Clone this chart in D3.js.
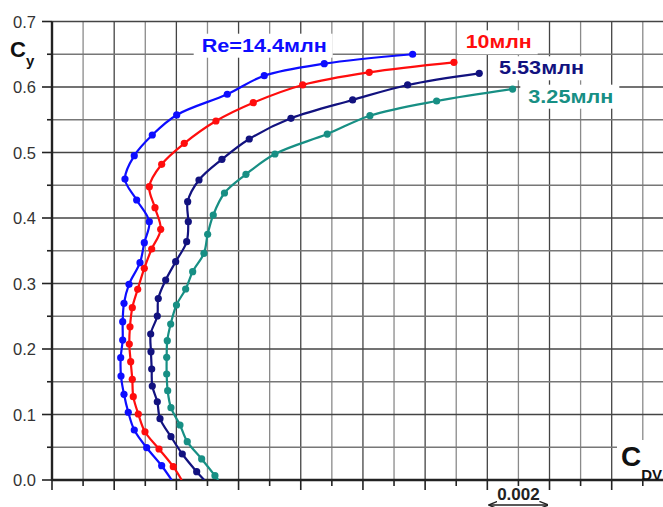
<!DOCTYPE html>
<html><head><meta charset="utf-8">
<script src="https://cdn.jsdelivr.net/npm/d3@7"></script>
<style>html,body{margin:0;padding:0;background:#fff}svg{display:block}</style>
</head><body>
<svg id="chart" width="663" height="507"></svg>
<script>
// ---- data (Cdv, Cy) ----
const seriesNames = ["Re=14.4млн", "10млн", "5.53млн", "3.25млн"];
const seriesColors = ["#0d0dff", "#ff0d0d", "#12127f", "#178f84"];
const cdv144 = [0.011598,0.008756,0.006826,0.005637,0.004010,0.003225,0.002646,0.002347,0.002723,0.003129,0.002968,0.002830,0.002476,0.002315,0.002273,0.002273,0.002209,0.002219,0.002315,0.002453,0.002646,0.003045,0.003527,0.003849];
const cy144  = [0.650,0.6356,0.6173,0.5889,0.5573,0.5267,0.4951,0.4595,0.4275,0.3944,0.3623,0.3318,0.2988,0.2698,0.2417,0.2137,0.1867,0.1588,0.1308,0.1034,0.0763,0.0493,0.0218,0];
const cdv10 = [0.012926,0.010203,0.008061,0.006473,0.005273,0.004254,0.003527,0.003129,0.003312,0.003495,0.003206,0.002968,0.002756,0.002582,0.002508,0.002486,0.002531,0.002582,0.002614,0.002775,0.002990,0.003441,0.003900,0.004170];
const cy10  = [0.6377,0.6224,0.6031,0.5760,0.5481,0.5140,0.4820,0.4478,0.4157,0.3827,0.3527,0.3232,0.2911,0.2631,0.2340,0.2076,0.1806,0.1537,0.1272,0.1008,0.0737,0.0473,0.0203,0];
const cdv553 = [0.013740,0.011437,0.009669,0.007685,0.006344,0.005466,0.004727,0.004363,0.004383,0.004331,0.003977,0.003656,0.003418,0.003386,0.003174,0.003183,0.003206,0.003225,0.003386,0.003473,0.003826,0.004190,0.004653,0.004897];
const cy553  = [0.6209,0.6031,0.5802,0.5522,0.5206,0.4896,0.4580,0.4249,0.3944,0.3638,0.3333,0.3053,0.2771,0.2504,0.2229,0.1959,0.1695,0.1435,0.1195,0.0936,0.0661,0.0397,0.0127,0];
const cdv325 = [0.014813,0.012370,0.010225,0.008852,0.007170,0.006238,0.005547,0.005186,0.005006,0.004887,0.004524,0.004299,0.004003,0.003817,0.003707,0.003688,0.003688,0.003720,0.003826,0.004116,0.004350,0.004813,0.005241,0.005347];
const cy325  = [0.5969,0.5786,0.5562,0.5282,0.4977,0.4667,0.4382,0.4046,0.3751,0.3461,0.3180,0.2916,0.2672,0.2382,0.2127,0.1873,0.1618,0.1363,0.1104,0.0840,0.0585,0.0321,0.0066,0];
const yTickLabels = ["0.0","0.1","0.2","0.3","0.4","0.5","0.6","0.7"];
const scaleBarLabel = "0.002";
const scaleBarRange = [0.014, 0.016];

const allX = [cdv144, cdv10, cdv553, cdv325];
const allY = [cy144, cy10, cy553, cy325];

// ---- layout ----
const svg = d3.select("#chart");
const ff = "'Liberation Sans', Arial, sans-serif";
const x = d3.scaleLinear().domain([0, 0.01965]).range([52, 663]);
const y = d3.scaleLinear().domain([0, 0.7]).range([480, 21.5]);

// grid
const xTicks = d3.range(0, 20).map(k => k * 0.001);
const yGrid = d3.range(1, 15).map(k => k * 0.05);
svg.append("g").selectAll("line").data(xTicks.slice(1)).join("line")
  .attr("x1", d => x(d)).attr("x2", d => x(d))
  .attr("y1", y(0)).attr("y2", y(0.7))
  .attr("stroke", (d,i) => ((i+1) % 2 === 0) ? "#444" : "#8a8a8a").attr("stroke-width", 1.3);
svg.append("g").selectAll("line").data(yGrid).join("line")
  .attr("x1", x(0)).attr("x2", 663)
  .attr("y1", d => y(d)).attr("y2", d => y(d))
  .attr("stroke", (d,i) => ((i+1) % 2 === 0) ? "#444" : "#777").attr("stroke-width", 1.3);

// label backgrounds + labels
const labelBoxes = [
  {t: seriesNames[0], c: seriesColors[0], x: 201.7, y: 51.7, w: 125},
  {t: seriesNames[1], c: seriesColors[1], x: 465.7, y: 48.3, w: 66},
  {t: seriesNames[2], c: seriesColors[2], x: 499, y: 74.3, w: 85},
  {t: seriesNames[3], c: seriesColors[3], x: 528.3, y: 102.7, w: 85}
];
labelBoxes.forEach(b => {
  svg.append("rect").attr("x", b.x - 8).attr("y", b.y - 18).attr("width", b.w + 14).attr("height", 24).attr("fill", "#fff");
});

// axes
svg.append("g").selectAll("line").data(d3.range(0, 15)).join("line")
  .attr("x1", k => k % 2 === 0 ? 42 : 47).attr("x2", 52)
  .attr("y1", k => y(k * 0.05)).attr("y2", k => y(k * 0.05))
  .attr("stroke", "#222").attr("stroke-width", 1.6);
svg.append("g").selectAll("text").data(yTickLabels).join("text")
  .attr("x", 36).attr("y", (d,i) => y(i * 0.1) + 6)
  .attr("text-anchor", "end").attr("font-family", ff).attr("font-size", 16.5)
  .attr("fill", "#333").text(d => d);
svg.append("g").selectAll("line").data(d3.range(0, 20)).join("line")
  .attr("x1", k => x(k * 0.001)).attr("x2", k => x(k * 0.001))
  .attr("y1", 480).attr("y2", k => k % 2 === 0 ? 490 : 486)
  .attr("stroke", "#222").attr("stroke-width", 1.6);
svg.append("line").attr("x1", x(0)).attr("x2", x(0)).attr("y1", y(0.7)).attr("y2", 481)
  .attr("stroke", "#222").attr("stroke-width", 2.4);
svg.append("line").attr("x1", x(0)).attr("x2", 663).attr("y1", 480).attr("y2", 480)
  .attr("stroke", "#222").attr("stroke-width", 2.6);

// axis titles
svg.append("rect").attr("x", 617).attr("y", 440).attr("width", 46).attr("height", 38).attr("fill", "#fff");
const cy = svg.append("text").attr("x", 10).attr("y", 57).attr("font-family", ff).attr("font-weight", "bold").attr("fill", "#111");
cy.append("tspan").attr("font-size", 22).text("C");
cy.append("tspan").attr("font-size", 15).attr("dy", 9).text("y");
const cd = svg.append("text").attr("x", 621).attr("y", 466).attr("font-family", ff).attr("font-weight", "bold").attr("fill", "#111");
cd.append("tspan").attr("font-size", 28).text("C");
cd.append("tspan").attr("font-size", 15).attr("dy", 14).text("DV");

// scale bar
svg.append("text").attr("x", (x(scaleBarRange[0]) + x(scaleBarRange[1])) / 2).attr("y", 500)
  .attr("text-anchor", "middle").attr("font-family", ff).attr("font-weight", "bold")
  .attr("font-size", 17).attr("fill", "#222").text(scaleBarLabel);
const defs = svg.append("defs");
defs.append("marker").attr("id", "ah").attr("viewBox", "0 0 10 10").attr("refX", 9).attr("refY", 5)
  .attr("markerWidth", 6).attr("markerHeight", 6).attr("orient", "auto-start-reverse")
  .append("path").attr("d", "M0,1 L10,5 L0,9").attr("fill", "none").attr("stroke", "#222").attr("stroke-width", 1.5);
svg.append("line").attr("x1", x(scaleBarRange[0]) + 2).attr("x2", x(scaleBarRange[1]) - 2)
  .attr("y1", 505).attr("y2", 505).attr("stroke", "#222").attr("stroke-width", 1.5)
  .attr("marker-start", "url(#ah)").attr("marker-end", "url(#ah)");

// series
const line = d3.line().x(d => x(d[0])).y(d => y(d[1])).curve(d3.curveCatmullRom.alpha(0.5));
svg.append("clipPath").attr("id", "pc").append("rect").attr("x", 52).attr("y", 0).attr("width", 611).attr("height", 480);
allX.forEach((xs, s) => {
  const pts = xs.map((v, i) => [v, allY[s][i]]);
  const g = svg.append("g").attr("clip-path", "url(#pc)");
  g.append("path").attr("d", line(pts)).attr("fill", "none")
    .attr("stroke", seriesColors[s]).attr("stroke-width", 2.2);
  g.selectAll("circle").data(pts.slice(0, -1)).join("circle")
    .attr("cx", d => x(d[0])).attr("cy", d => y(d[1])).attr("r", 3.6)
    .attr("fill", seriesColors[s]);
});

// series labels
labelBoxes.forEach(b => {
  svg.append("text").attr("x", b.x).attr("y", b.y).attr("font-family", ff).attr("font-weight", "bold")
    .attr("font-size", 18.5).attr("fill", b.c).attr("textLength", b.w).attr("lengthAdjust", "spacingAndGlyphs")
    .text(b.t);
});
</script>
</body></html>
